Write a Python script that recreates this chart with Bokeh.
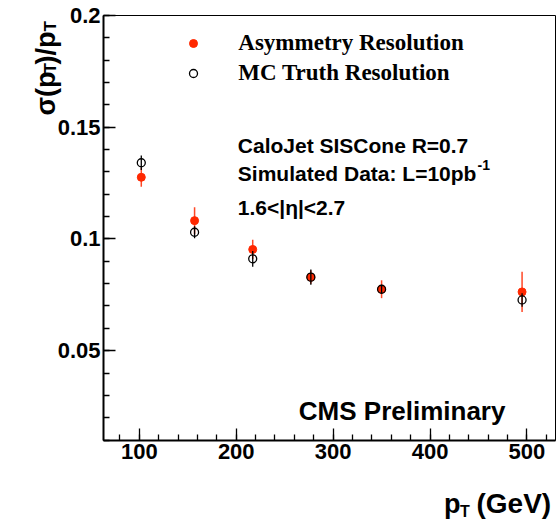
from bokeh.plotting import figure
from bokeh.models import (ColumnDataSource, FixedTicker, Label, Legend, LegendItem, Range1d,
                          BoxAnnotation)
from bokeh.embed import file_html
from bokeh.resources import INLINE
import numpy as np

# ---- data ----
pt_gev = [102, 157, 217, 277, 350, 495]
asym_res = [0.1276, 0.1082, 0.0953, 0.0829, 0.0775, 0.0763]
asym_err = [0.0042, 0.0060, 0.0043, 0.0030, 0.0040, 0.0090]
mc_res = [0.1341, 0.1030, 0.0911, 0.0829, 0.0775, 0.0727]
mc_err = [0.0032, 0.0027, 0.0035, 0.0034, 0.0020, 0.0030]

x_major = [100, 200, 300, 400, 500]
x_minor = list(range(80, 540, 20))
y_major = [0.05, 0.1, 0.15, 0.2]
y_major_labels = ["0.05", "0.1", "0.15", "0.2"]
y_minor = [round(0.01 * i, 2) for i in range(1, 21)]

# axis extents (data) of the drawn frame
X_BOUNDS = (63.0, 529.5)
Y_BOUNDS = (0.0098, 0.2)

RED = "#ff2800"
SANS = "Liberation Sans"
SERIF = "Liberation Serif"

# ---- layout (pixels) ----
W, H = 560, 519
BOX_L, BOX_R, BOX_T, BOX_B = 103, 555, 15, 440   # where the axes frame sits on the canvas
sx = (BOX_R - BOX_L) / (X_BOUNDS[1] - X_BOUNDS[0])
sy = (BOX_B - BOX_T) / (Y_BOUNDS[1] - Y_BOUNDS[0])
x_start = X_BOUNDS[0] - BOX_L / sx
x_end = x_start + W / sx
y_end = Y_BOUNDS[1] + BOX_T / sy
y_start = y_end - H / sy


def at(px, py):
    """canvas pixel position -> data coordinates (used only for text placement)"""
    return x_start + px / sx, y_end - py / sy


p = figure(width=W, height=H, output_backend="svg", toolbar_location=None,
           x_range=Range1d(x_start, x_end), y_range=Range1d(y_start, y_end),
           min_border=0)
p.title.visible = False
p.xgrid.visible = False
p.ygrid.visible = False
p.outline_line_color = None
p.background_fill_color = "white"
p.border_fill_color = "white"

xa = p.xaxis[0]
ya = p.yaxis[0]
xa.fixed_location = Y_BOUNDS[0]
ya.fixed_location = X_BOUNDS[0]
xa.bounds = X_BOUNDS
ya.bounds = Y_BOUNDS

for ax in (xa, ya):
    ax.axis_line_width = 2
    ax.axis_line_color = "black"
    ax.major_tick_in = 12
    ax.major_tick_out = 0
    ax.minor_tick_in = 6
    ax.minor_tick_out = 0
    ax.major_tick_line_width = 1.3
    ax.minor_tick_line_width = 1.3
    ax.major_tick_line_color = "black"
    ax.minor_tick_line_color = "black"
    ax.major_label_text_font = SANS
    ax.major_label_text_font_style = "bold"
    ax.major_label_text_font_size = "22px"
    ax.major_label_text_color = "black"
    ax.major_label_standoff = 3

xa.ticker = FixedTicker(ticks=x_major, minor_ticks=x_minor)
ya.ticker = FixedTicker(ticks=y_major, minor_ticks=y_minor)
ya.major_label_overrides = dict(zip(y_major, y_major_labels))

# frame box (top / right edges)
p.add_layout(BoxAnnotation(left=X_BOUNDS[0], right=X_BOUNDS[1], bottom=Y_BOUNDS[0], top=Y_BOUNDS[1],
                           fill_alpha=0, line_color="black", line_width=1, line_alpha=1,
                           level="underlay"))

a = np.array(asym_res)
ae = np.array(asym_err)
m = np.array(mc_res)
me = np.array(mc_err)
src_a = ColumnDataSource(dict(x=pt_gev, y=asym_res, lo=list(a - ae), hi=list(a + ae)))
src_m = ColumnDataSource(dict(x=pt_gev, y=mc_res, lo=list(m - me), hi=list(m + me)))

p.segment(x0="x", y0="lo", x1="x", y1="hi", source=src_a, line_color=RED, line_width=1.5, line_alpha=0.85)
r_a = p.scatter(x="x", y="y", source=src_a, marker="circle", size=8, fill_color=RED, line_color=RED)
p.segment(x0="x", y0="lo", x1="x", y1="hi", source=src_m, line_color="black", line_width=1.3)
r_m = p.scatter(x="x", y="y", source=src_m, marker="circle", size=8, fill_color=None,
                line_color="black", line_width=1.3)

legend = Legend(items=[LegendItem(label="Asymmetry Resolution", renderers=[r_a]),
                       LegendItem(label="MC Truth Resolution", renderers=[r_m])],
                location=(183.3, 432.8), padding=0, margin=0, spacing=4,
                glyph_width=20, glyph_height=24, label_height=24, label_standoff=35,
                label_text_font=SERIF, label_text_font_style="bold", label_text_font_size="23px",
                label_text_color="black", border_line_alpha=0, background_fill_alpha=0)
p.add_layout(legend)


def add_text(text, px, py, size, font=SANS, angle=0.0):
    x, y = at(px, py)
    p.add_layout(Label(x=x, y=y, text=text, text_font=font, text_font_style="bold",
                       text_font_size=size, text_color="black", text_baseline="alphabetic",
                       text_align="left", angle=angle))


add_text("CaloJet SISCone R=0.7", 237.3, 145, "21px")
add_text("Simulated Data: L=10pb", 237.3, 172.7, "21px")
add_text("-1", 477, 164, "14px")
add_text("1.6<|η|<2.7", 237.3, 206.7, "21px")
add_text("CMS Preliminary", 298.3, 410, "26px")

# x-axis title p_T (GeV)
add_text("p", 443.5, 503, "27px")
add_text("T", 459.5, 511, "16px")
add_text("(GeV)", 476, 503, "28px")

# y-axis title sigma(p_T)/p_T, rotated
ang = np.pi / 2
add_text("σ(p", 45, 115, "27px", angle=ang)
add_text("T", 50, 73, "17px", angle=ang)
add_text(")/p", 45, 64, "27px", angle=ang)
add_text("T", 50, 31, "17px", angle=ang)

open("out.html", "w").write(file_html(p, INLINE))
